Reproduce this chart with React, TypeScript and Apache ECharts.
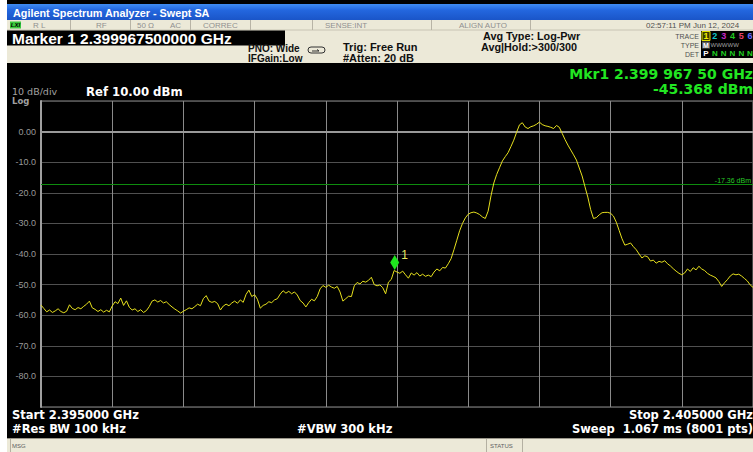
import React, { useEffect, useRef } from "react";
import * as echarts from "echarts";

// ---------- data ----------
const START_MHZ = 2395;
const STOP_MHZ = 2405;
const STEP_MHZ = 0.04;
const REF_LEVEL = 10;
const BOTTOM_LEVEL = -90;
const DISPLAY_LINE = -17.36;
const MARKER_FREQ = 2399.9675;
const MARKER_DBM = -45.368;

const traceDbm = [
  -56.7, -57.8, -58.9, -58.3, -59.1, -58.6, -57.9, -58.8, -59.2, -58.7,
  -56.6, -57.8, -58.2, -57.5, -57.9, -57.1, -56.4, -55.4, -57.6, -58.1,
  -58.8, -58.2, -59.0, -58.4, -58.9, -57.0, -55.6, -56.2, -54.4, -56.8,
  -55.3, -57.4, -58.3, -57.9, -58.8, -58.2, -59.1, -58.5, -57.2, -55.4,
  -55.0, -55.7, -55.2, -56.0, -55.6, -56.5, -57.3, -58.0, -58.6, -59.3,
  -58.7, -58.2, -57.6, -57.9, -57.2, -56.4, -56.9, -54.6, -53.6, -55.4,
  -55.8, -55.5, -56.2, -58.3, -57.0, -56.4, -56.9, -56.0, -55.4, -56.1,
  -55.0, -55.8, -53.2, -51.8, -53.9, -53.3, -54.8, -57.7, -56.8, -56.4,
  -55.6, -55.9, -55.0, -54.6, -53.1, -52.0, -52.8, -52.2, -53.0, -52.4,
  -53.4, -55.2, -56.0, -57.3, -55.9, -54.8, -55.3, -53.9, -51.4, -50.3,
  -50.9, -50.2, -50.8, -51.2, -50.6, -52.4, -55.4, -54.6, -53.8, -53.9,
  -50.4, -49.3, -49.8, -48.9, -49.2, -48.6, -47.6, -50.0, -50.4, -50.1,
  -51.0, -53.0, -49.2, -48.3, -45.4, -45.9, -46.3, -45.6, -46.8, -47.9,
  -46.2, -46.9, -46.1, -47.2, -46.6, -47.3, -46.9, -47.4, -45.9, -44.9,
  -45.5, -44.4, -44.6, -43.2, -41.5, -38.6, -35.5, -32.4, -30.0, -28.2,
  -27.0, -26.5, -26.3, -26.6, -27.1, -27.9, -28.4, -26.0, -21.0, -16.8,
  -14.0, -11.8, -9.6, -8.2, -6.9, -4.9, -2.8, -0.2, 2.2, 2.9,
  1.5, 1.0, 1.6, 1.9, 2.4, 3.1, 2.3, 1.9, 1.7, 1.4,
  1.0, 2.0, 1.4, -0.6, -2.6, -4.4, -6.0, -7.6, -9.3, -11.9,
  -14.5, -18.0, -21.4, -25.5, -28.4, -28.1, -27.2, -26.5, -26.4, -26.4,
  -26.7, -27.6, -29.6, -32.3, -35.0, -37.1, -36.8, -36.4, -37.6, -38.6,
  -40.0, -41.3, -40.6, -40.9, -42.3, -42.0, -43.0, -42.4, -42.7, -42.2,
  -43.2, -43.9, -44.8, -45.6, -46.3, -46.8, -46.2, -44.9, -45.7, -44.5,
  -45.2, -44.0, -44.9, -45.4, -46.3, -46.9, -47.3, -47.8, -49.0, -50.6,
  -49.4, -48.4, -47.2, -46.5, -46.8, -46.6, -47.2, -48.0, -48.8, -50.1,
  -50.9,
];

const yTickValues = [0, -10, -20, -30, -40, -50, -60, -70, -80];
const yTickLabels = ["0.00", "-10.0", "-20.0", "-30.0", "-40.0", "-50.0", "-60.0", "-70.0", "-80.0"];

const statusCells = ["R L", "RF", "50 Ω", "AC", "CORREC", "SENSE:INT", "ALIGN AUTO"];
const traceNumbers = ["1", "2", "3", "4", "5", "6"];
const traceColors = ["#f0f000", "#10c8c8", "#c828c8", "#20c820", "#e84068", "#6868ff"];
const detLetters = ["P", "N", "N", "N", "N", "N"];

// ---------- layout/style ----------
const FONT = '"Liberation Sans", Arial, sans-serif';
const WIDE = '"DejaVu Sans", Verdana, sans-serif';
const BEIGE = "#ece9d8";

function t(text: string, x: number, y: number, font: string, fill: string, align = "left") {
  return {
    type: "text",
    x,
    y,
    z: 20,
    silent: true,
    style: { text, font, fill, align, verticalAlign: "middle" },
  };
}

export default function App() {
  const ref = useRef<HTMLDivElement>(null);

  useEffect(() => {
    if (!ref.current) return;
    const chart = echarts.init(ref.current, undefined, { renderer: "svg" });

    const points = traceDbm.map((v, i) => [START_MHZ + i * STEP_MHZ, v]);

    const statusX = [33, 96, 137, 170, 203, 325, 459];
    const sepX = [70, 130, 190, 250, 312, 431, 530];
    const numX = [706, 714.8, 723.7, 732.4, 741.3, 750];

    const graphic: any[] = [
      // white left strip
      { type: "rect", z: 1, silent: true, shape: { x: 0, y: 0, width: 7, height: 452 }, style: { fill: "#ffffff" } },
      // title bar
      {
        type: "rect", z: 1, silent: true,
        shape: { x: 7, y: 4, width: 746, height: 16 },
        style: {
          fill: new echarts.graphic.LinearGradient(0, 0, 0, 1, [
            { offset: 0, color: "#3f8cf2" },
            { offset: 0.35, color: "#2468e0" },
            { offset: 1, color: "#1a55c8" },
          ]),
        },
      },
      t("Agilent Spectrum Analyzer - Swept SA", 13, 12.5, `bold 10.8px ${FONT}`, "#ffffff"),
      // header beige
      { type: "rect", z: 1, silent: true, shape: { x: 7, y: 20, width: 746, height: 43 }, style: { fill: BEIGE } },
      { type: "line", z: 2, silent: true, shape: { x1: 7, y1: 30, x2: 753, y2: 30 }, style: { stroke: "#c8c4b4", lineWidth: 1 } },
      // LXI
      { type: "rect", z: 3, silent: true, shape: { x: 10, y: 21.5, width: 11, height: 7 }, style: { fill: "#3cc83c" } },
      t("LXI", 15.5, 25.3, `italic bold 6px ${FONT}`, "#000000", "center"),
      // marker box
      { type: "rect", z: 3, silent: true, shape: { x: 7, y: 30.5, width: 278, height: 15 }, style: { fill: "#000000" } },
      t("Marker 1 2.399967500000 GHz", 12, 38.3, `bold 15.5px ${FONT}`, "#ffffff"),
      t("PNO: Wide", 248, 48.5, `bold 10px ${FONT}`, "#101010"),
      t("IFGain:Low", 248, 58, `bold 10px ${FONT}`, "#101010"),
      { type: "rect", z: 3, silent: true, shape: { x: 308, y: 47, width: 17, height: 6, r: 3 }, style: { fill: "none", stroke: "#303030", lineWidth: 1 } },
      { type: "polyline", z: 3, silent: true, shape: { points: [[312, 51], [319, 51], [317, 49.5]] }, style: { fill: "none", stroke: "#303030", lineWidth: 1 } },
      t("Trig: Free Run", 343, 46.5, `bold 11px ${FONT}`, "#101010"),
      t("#Atten: 20 dB", 343, 57.8, `bold 11px ${FONT}`, "#101010"),
      t("Avg Type: Log-Pwr", 483, 35.8, `bold 10.8px ${FONT}`, "#101010"),
      t("Avg|Hold:>300/300", 481, 47, `bold 10.8px ${FONT}`, "#101010"),
      t("02:57:11 PM Jun 12, 2024", 646, 25.3, `8px ${FONT}`, "#505050"),
      // trace panel
      t("TRACE", 699, 36, `7px ${FONT}`, "#505050", "right"),
      t("TYPE", 699, 45, `7px ${FONT}`, "#505050", "right"),
      t("DET", 699, 54, `7px ${FONT}`, "#505050", "right"),
      { type: "rect", z: 3, silent: true, shape: { x: 701, y: 31, width: 52, height: 27 }, style: { fill: "#000000" } },
      { type: "rect", z: 4, silent: true, shape: { x: 702, y: 31.5, width: 8, height: 9 }, style: { fill: "#3a3a00", stroke: "#e0e000", lineWidth: 1 } },
      { type: "rect", z: 4, silent: true, shape: { x: 702, y: 41.5, width: 8, height: 7 }, style: { fill: "#606060" } },
      t("M", 706, 45.2, `bold 7px ${FONT}`, "#ffffff", "center"),
      t("WWWWW", 710.5, 45.2, `6px ${FONT}`, "#a0a0a0"),
      // bottom bar
      { type: "rect", z: 1, silent: true, shape: { x: 7, y: 438, width: 746, height: 14 }, style: { fill: BEIGE } },
      { type: "line", z: 2, silent: true, shape: { x1: 7, y1: 438.5, x2: 753, y2: 438.5 }, style: { stroke: "#9a968a", lineWidth: 1 } },
      { type: "line", z: 2, silent: true, shape: { x1: 10.5, y1: 439, x2: 10.5, y2: 452 }, style: { stroke: "#b4b0a2", lineWidth: 1 } },
      { type: "line", z: 2, silent: true, shape: { x1: 486.5, y1: 439, x2: 486.5, y2: 452 }, style: { stroke: "#b4b0a2", lineWidth: 1 } },
      { type: "line", z: 2, silent: true, shape: { x1: 522.5, y1: 439, x2: 522.5, y2: 452 }, style: { stroke: "#b4b0a2", lineWidth: 1 } },
      t("MSG", 12, 446, `6px ${FONT}`, "#606060"),
      t("STATUS", 490, 446, `6px ${FONT}`, "#606060"),
      // plot header
      t("Mkr1 2.399 967 50 GHz", 753, 73.5, `bold 14px ${WIDE}`, "#22e622", "right"),
      t("-45.368 dBm", 753, 88.5, `bold 14px ${WIDE}`, "#22e622", "right"),
      t("10 dB/div", 12, 91.5, `9.5px ${WIDE}`, "#a0a0a0"),
      t("Log", 12, 101.3, `bold 8.5px ${WIDE}`, "#a0a0a0"),
      t(`Ref ${REF_LEVEL.toFixed(2)} dBm`, 86, 91.5, `bold 11.7px ${WIDE}`, "#ffffff"),
      // footer
      t(`Start ${(START_MHZ / 1000).toFixed(6)} GHz`, 12, 415, `bold 11.5px ${WIDE}`, "#ffffff"),
      t("#Res BW 100 kHz", 12, 429, `bold 11.5px ${WIDE}`, "#ffffff"),
      t("#VBW 300 kHz", 297, 429, `bold 11.5px ${WIDE}`, "#ffffff"),
      t(`Stop ${(STOP_MHZ / 1000).toFixed(6)} GHz`, 753, 415, `bold 11.5px ${WIDE}`, "#ffffff", "right"),
      t("Sweep  1.067 ms (8001 pts)", 753, 429, `bold 11.5px ${WIDE}`, "#ffffff", "right"),
    ];

    statusCells.forEach((s, i) => graphic.push(t(s, statusX[i], 25.3, `8px ${FONT}`, "#909090")));
    sepX.forEach((x) =>
      graphic.push({ type: "line", z: 2, silent: true, shape: { x1: x + 0.5, y1: 20, x2: x + 0.5, y2: 30 }, style: { stroke: "#b8b4a6", lineWidth: 1 } })
    );
    traceNumbers.forEach((n, i) => graphic.push(t(n, numX[i], 36.3, `bold 9px ${FONT}`, traceColors[i], "center")));
    detLetters.forEach((d, i) =>
      graphic.push(t(d, numX[i], 53.5, `bold 8px ${FONT}`, i === 0 ? "#ffffff" : "#20d020", "center"))
    );

    chart.setOption({
      animation: false,
      backgroundColor: "#000000",
      grid: {
        left: 41,
        top: 101,
        right: 0,
        bottom: 45,
        show: true,
        borderColor: "#8c8c8c",
        borderWidth: 1,
        backgroundColor: "transparent",
      },
      xAxis: {
        type: "value",
        min: START_MHZ,
        max: STOP_MHZ,
        interval: 1,
        axisLabel: { show: false },
        axisTick: { show: false },
        axisLine: { show: true, lineStyle: { color: "#9a9a9a", width: 2 } },
        splitLine: { show: true, lineStyle: { color: "#8a8a8a", width: 1 } },
      },
      yAxis: {
        type: "value",
        min: BOTTOM_LEVEL,
        max: REF_LEVEL,
        interval: 10,
        axisTick: { show: false },
        axisLine: { show: true, lineStyle: { color: "#a0a0a0", width: 2 } },
        splitLine: { show: true, lineStyle: { color: "#505050", width: 1 } },
        axisLabel: {
          margin: 5,
          color: "#9a9a9a",
          fontSize: 9,
          fontFamily: FONT,
          formatter: (v: number) => {
            const k = yTickValues.indexOf(v);
            return k >= 0 ? yTickLabels[k] : "";
          },
        },
      },
      graphic,
      series: [
        {
          type: "line",
          data: points,
          showSymbol: false,
          symbol: "none",
          lineStyle: { color: "#e6e01e", width: 1 },
          z: 5,
          silent: true,
          markLine: {
            silent: true,
            symbol: ["none", "none"],
            lineStyle: { color: "#0e8c0e", type: "solid", width: 1 },
            label: {
              show: true,
              position: "insideEndTop",
              formatter: `${DISPLAY_LINE.toFixed(2)} dBm`,
              color: "#28c828",
              fontSize: 7,
              fontFamily: FONT,
              distance: [2, 1],
            },
            data: [{ yAxis: DISPLAY_LINE }],
          },
          markPoint: {
            silent: true,
            symbol: "diamond",
            symbolSize: [9, 15],
            symbolOffset: [0, -8],
            itemStyle: { color: "#1ee61e" },
            label: {
              show: true,
              formatter: "1",
              position: "right",
              distance: 2,
              offset: [0, -7],
              color: "#e8e860",
              fontSize: 12,
              fontFamily: FONT,
            },
            data: [{ coord: [MARKER_FREQ, MARKER_DBM] }],
          },
        },
      ],
    });

    return () => chart.dispose();
  }, []);

  return <div ref={ref} style={{ position: "absolute", left: 0, top: 0, width: 753, height: 452 }} />;
}
